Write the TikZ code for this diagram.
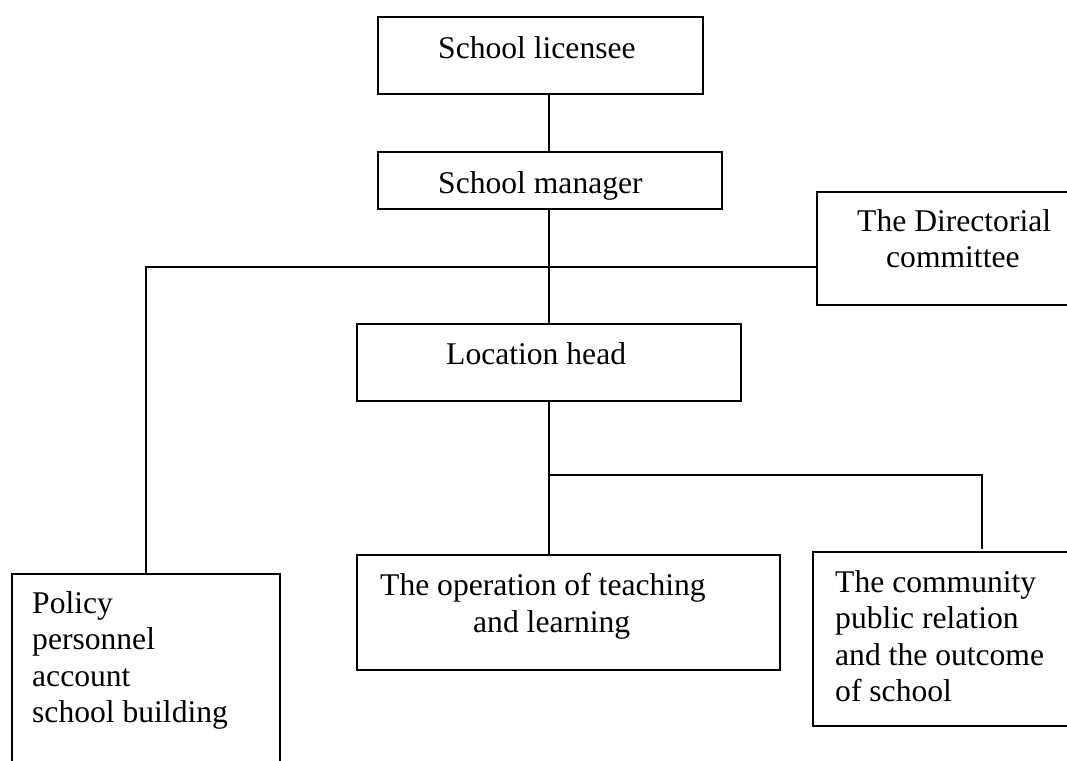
\documentclass[tikz,border=0pt]{standalone}
\usepackage{fontspec}
\setmainfont{Liberation Serif}
\begin{document}
\begin{tikzpicture}[x=1pt,y=-1pt,
  box/.style={draw, line width=1.8pt, inner sep=0pt, outer sep=0pt, anchor=north west},
  txt/.style={inner sep=0pt, anchor=base west, font=\fontsize{31.6}{36.5}\selectfont},
  link/.style={line width=1.8pt}]
\clip (0,0) rectangle (1067,760);
\fill[white] (0,0) rectangle (1067,760);
% boxes
\node[box, minimum width=325pt, minimum height=77pt]  (lic) at (378,17) {};
\node[box, minimum width=344pt, minimum height=57pt]  (mgr) at (378,152) {};
\node[box, minimum width=273pt, minimum height=113pt] (dir) at (817,192) {};
\node[box, minimum width=384pt, minimum height=77pt]  (loc) at (357,324) {};
\node[box, minimum width=268pt, minimum height=226pt] (pol) at (12,574) {};
\node[box, minimum width=423pt, minimum height=115pt] (op)  at (357,555) {};
\node[box, minimum width=277pt, minimum height=174pt] (com) at (813,552) {};
% texts
\node[txt] (licT) at (438,59) {School licensee};
\node[txt] (mgrT) at (438,193) {School manager};
\node[txt] (dirT1) at (857,231) {The Directorial};
\node[txt] (dirT2) at (886,267) {committee};
\node[txt] (locT) at (446,364) {Location head};
\node[txt] (opT1) at (380,595) {The operation of teaching};
\node[txt] (opT2) at (473,632) {and learning};
\node[txt] (polT) at (32,613) {\begin{tabular}[t]{@{}l@{}}Policy\\ personnel\\ account\\ school building\end{tabular}};
\node[txt] (comT) at (835,592) {\begin{tabular}[t]{@{}l@{}}The community\\ public relation\\ and the outcome\\ of school\end{tabular}};
% connectors
\coordinate (vx) at (549,0);
\coordinate (hy) at (0,267);
\coordinate (jn) at (549,475);
\coordinate (cend) at (982,549);
\draw[link] (lic.south -| vx) -- (mgr.north -| vx);
\draw[link] (mgr.south -| vx) -- (loc.north -| vx);
\draw[link] (dir.north west |- hy) -| (pol.north);
\draw[link] (loc.south -| vx) -- (op.north -| vx);
\draw[link] (jn) -| (cend);
\end{tikzpicture}
\end{document}
